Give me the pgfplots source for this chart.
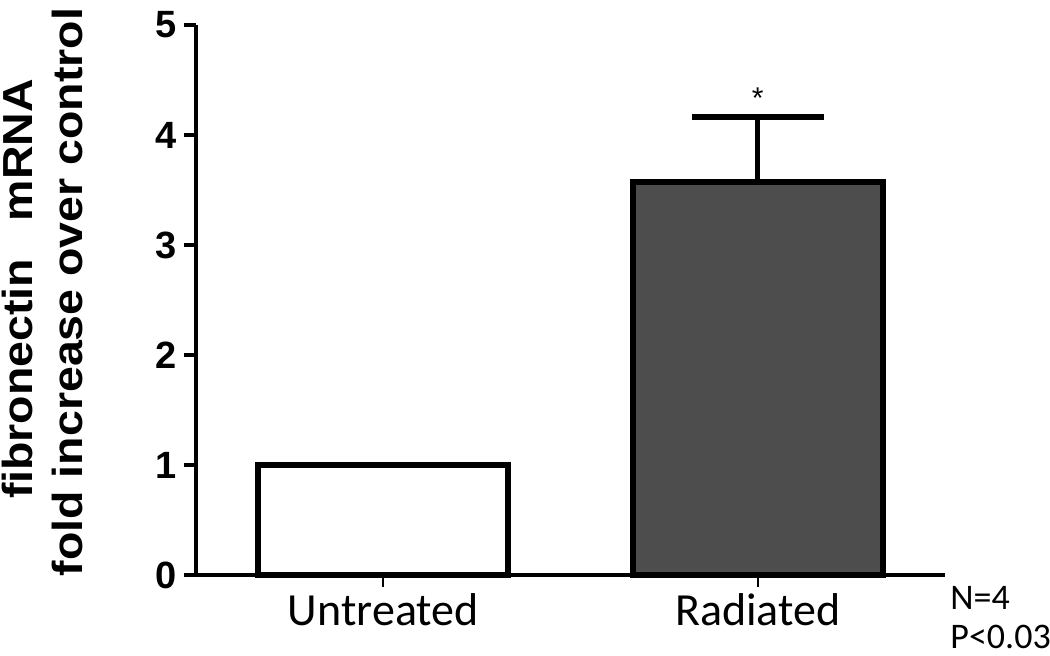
\documentclass[border=0pt]{standalone}
\usepackage{pgfplots}
\pgfplotsset{compat=1.18}
\usepackage{fontspec}
\setmainfont{Carlito}
\newfontfamily\arial{Liberation Sans}
\definecolor{darkbar}{HTML}{4D4D4D}
\begin{document}
\begin{tikzpicture}
\begin{axis}[
  at={(0,0)}, anchor=south west,
  scale only axis, width=374.5pt, height=275pt,
  xmin=-0.5, xmax=1.5, ymin=0, ymax=5,
  axis lines*=left,
  axis line style={line width=2pt},
  xtick={0,1}, xticklabels={Untreated,Radiated},
  ytick={0,1,2,3,4,5},
  tick align=outside,
  major tick length=6pt,
  y tick style={line width=1.6pt, black},
  x tick style={line width=1.2pt, black},
  xtick pos=bottom, ytick pos=left,
  /pgf/number format/assume math mode=true,
  yticklabel style={font=\arial\bfseries\fontsize{19}{19}\selectfont},
  xticklabel style={font=\fontsize{23}{23}\selectfont, anchor=base, yshift=-19pt},
  ybar, bar shift=0pt, bar width=0.667,
  clip=false,
]
\addplot[draw=black, line width=3pt, fill=white] coordinates {(0,1.0)};
\addplot[draw=black, line width=3pt, fill=darkbar,
  error bars/.cd, y dir=plus, y explicit,
  error bar style={line width=2.5pt, black},
  error mark options={rotate=90, mark size=33pt, line width=3pt, black}]
  coordinates {(1,3.57) +- (0,0.59)};
\node[font=\arial\fontsize{15}{15}\selectfont, yshift=-2pt] at (axis cs:1,4.37) {*};
\node[anchor=base west, inner sep=0pt, align=left, font=\fontsize{18}{19.5}\selectfont, xshift=2.5pt, yshift=-36.5pt]
  at (rel axis cs:1,0) {N=4\\P<0.03};
\end{axis}
\node[rotate=90, anchor=base, inner sep=0pt, font=\arial\bfseries\fontsize{21}{21}\selectfont] at (-81.5pt,143pt) {\scalebox{1.107}[1]{fibronectin\hspace{17pt}mRNA}};
\node[rotate=90, anchor=base, inner sep=0pt, font=\arial\bfseries\fontsize{21}{21}\selectfont] at (-56.5pt,141.5pt) {\scalebox{1.107}[1]{fold increase over control}};
\pgfresetboundingbox
\path[use as bounding box] (-98pt,-40pt) rectangle (427pt,287.5pt);
\end{tikzpicture}
\end{document}
